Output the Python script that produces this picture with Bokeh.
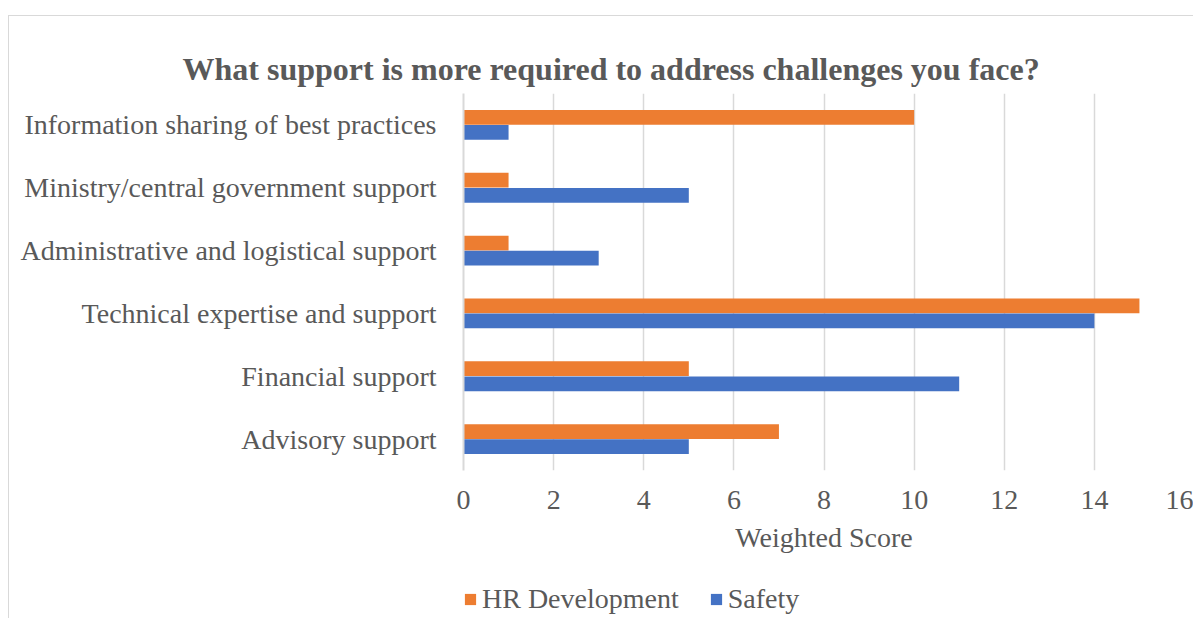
from bokeh.plotting import figure
from bokeh.layouts import column
from bokeh.models import Range1d, FactorRange, ColumnDataSource, Legend, LegendItem, SingleIntervalTicker
from bokeh.transform import dodge
from bokeh.embed import file_html
from bokeh.resources import INLINE

categories = ["Advisory support", "Financial support", "Technical expertise and support",
              "Administrative and logistical support", "Ministry/central government support",
              "Information sharing of best practices"]
hr_development = [7, 5, 15, 1, 1, 10]
safety = [5, 11, 14, 3, 5, 1]
x_ticks = [0, 2, 4, 6, 8, 10, 12, 14, 16]
title_text = "What support is more required to address challenges you face?"
x_label = "Weighted Score"
series_names = ["HR Development", "Safety"]

ORANGE = "#ED7D31"
BLUE = "#4472C4"
TXT = "#595959"
GRID = "#D9D9D9"
FONT = "Liberation Serif"
BORDER = "1px solid #D9D9D9"

src = ColumnDataSource(dict(cat=categories, hr=hr_development, safety=safety))

W = 1184
p = figure(width=W, height=544, output_backend="svg", toolbar_location=None,
           y_range=FactorRange(*categories), x_range=Range1d(x_ticks[0], x_ticks[-1]),
           min_border_left=454, min_border_right=9, min_border_top=77, min_border_bottom=90)
p.outline_line_color = None
p.background_fill_color = "white"
p.border_fill_color = "white"

r_hr = p.hbar(y=dodge("cat", 0.12, range=p.y_range), right="hr", left=0, height=0.235,
              source=src, fill_color=ORANGE, line_color=None)
r_sf = p.hbar(y=dodge("cat", -0.12, range=p.y_range), right="safety", left=0, height=0.235,
              source=src, fill_color=BLUE, line_color=None)

p.title.text = title_text
p.title.text_font = FONT
p.title.text_font_size = "32px"
p.title.text_font_style = "bold"
p.title.text_color = TXT
p.title.align = "left"
p.title.offset = -281
p.title.standoff = 14

# x axis
xa = p.xaxis[0]
xa.ticker = SingleIntervalTicker(interval=2)
xa.axis_line_color = None
xa.major_tick_line_color = None
xa.minor_tick_line_color = None
xa.major_label_text_font = FONT
xa.major_label_text_font_size = "28px"
xa.major_label_text_color = TXT
xa.major_label_standoff = 14
xa.axis_label = x_label
xa.axis_label_text_font = FONT
xa.axis_label_text_font_size = "28px"
xa.axis_label_text_font_style = "normal"
xa.axis_label_text_color = TXT
xa.axis_label_standoff = 10

# y axis
ya = p.yaxis[0]
ya.axis_line_color = GRID
ya.axis_line_width = 2
ya.major_tick_line_color = None
ya.minor_tick_line_color = None
ya.major_label_text_font = FONT
ya.major_label_text_font_size = "28px"
ya.major_label_text_color = TXT
ya.major_label_standoff = 21

p.xgrid.grid_line_color = GRID
p.xgrid.grid_line_width = 1.5
p.ygrid.grid_line_color = None

# legend strip below the chart (zero-width proxy bars only feed the legend swatches)
p2 = figure(width=W, height=58, output_backend="svg", toolbar_location=None,
            x_range=Range1d(0, 1), y_range=Range1d(0, 1), min_border=0)
p2.outline_line_color = None
p2.axis.visible = False
p2.grid.visible = False
p2.background_fill_color = "white"
p2.border_fill_color = "white"
proxy = ColumnDataSource(dict(y=[0.5], right=[0]))
l_hr = p2.hbar(y="y", right="right", left=0, height=0.5, source=proxy, fill_color=ORANGE, line_color=None)
l_sf = p2.hbar(y="y", right="right", left=0, height=0.5, source=proxy, fill_color=BLUE, line_color=None)

legend = Legend(items=[LegendItem(label=series_names[0], renderers=[l_hr]),
                       LegendItem(label=series_names[1], renderers=[l_sf])],
                orientation="horizontal", location=(0, 3))
legend.label_text_font = FONT
legend.label_text_font_size = "28px"
legend.label_text_color = TXT
legend.glyph_width = 14
legend.glyph_height = 14
legend.label_standoff = 5
legend.spacing = 30
legend.padding = 0
legend.margin = 0
legend.border_line_color = None
legend.background_fill_alpha = 0
p2.add_layout(legend, "center")

layout = column(p, p2, spacing=0)
layout.margin = (15, 0, 0, 8)
layout.styles = {"border-left": BORDER, "border-top": BORDER}
open("out.html", "w").write(file_html(layout, INLINE))
